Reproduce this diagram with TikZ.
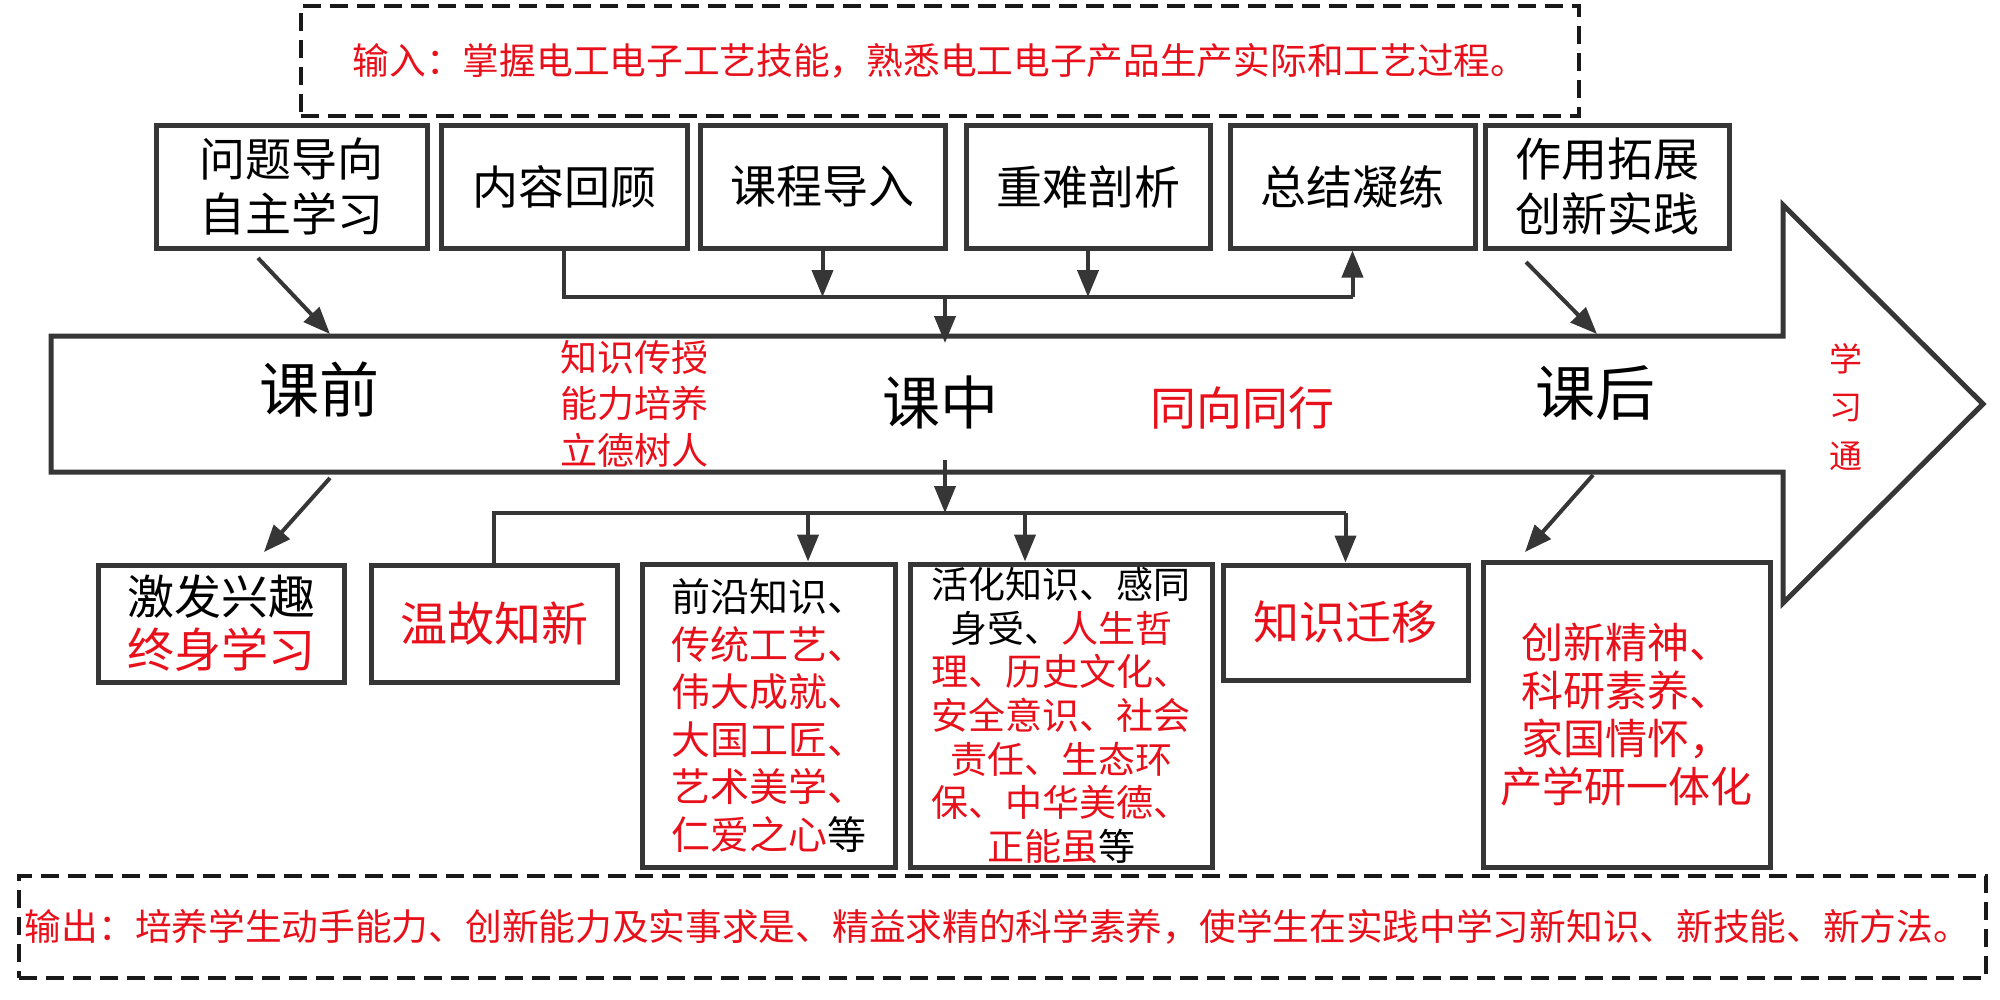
\documentclass[tikz,border=0pt]{standalone}
\usepackage{fontspec}
\setmainfont{Noto Sans CJK SC}
\usetikzlibrary{arrows.meta}
\definecolor{lc}{HTML}{363636}
\definecolor{rd}{HTML}{E8101A}
\tikzset{
  box/.style={draw=lc, line width=5pt, inner sep=0pt, align=center, fill=white},
  conn/.style={draw=lc, line width=4pt},
  arr/.style={conn, -{Triangle[length=27pt,width=21pt]}},
  dbox/.style={draw=black!90, line width=3.5pt, dash pattern=on 18pt off 9pt, inner sep=0pt, align=center},
  txt/.style={inner sep=0pt, align=center},
}
\begin{document}
\begin{tikzpicture}[x=1pt,y=-1pt]
\useasboundingbox (0,0) rectangle (2000,999);
% big arrow
\draw[lc, line width=5pt, line join=miter] (51,336) -- (1783,336) -- (1783,205) -- (1983,404) -- (1783,603) -- (1783,472) -- (51,472) -- cycle;
% dashed boxes
\node[dbox, minimum width=1278pt, minimum height=110pt, font={\fontsize{36.7}{44}\selectfont}, text=rd] (inp) at (940,61) {输入：掌握电工电子工艺技能，熟悉电工电子产品生产实际和工艺过程。};
\node[dbox, minimum width=1967pt, minimum height=102pt, font={\fontsize{36.7}{44}\selectfont}, text=rd] (outp) at (1002.5,927) {\hspace*{-10pt}输出：培养学生动手能力、创新能力及实事求是、精益求精的科学素养，使学生在实践中学习新知识、新技能、新方法。};
% top row
\begin{scope}[every node/.append style={box, minimum height=123pt, font={\fontsize{46}{55}\selectfont}}]
\node[minimum width=271pt] (b1) at (291.5,186.5) {问题导向\\自主学习};
\node[minimum width=246pt] (b2) at (564,186.5) {内容回顾};
\node[minimum width=245pt] (b3) at (822.5,186.5) {课程导入};
\node[minimum width=244pt] (b4) at (1088,186.5) {重难剖析};
\node[minimum width=245pt] (b5) at (1352.5,186.5) {总结凝练};
\node[minimum width=244pt] (b6) at (1607,186.5) {作用拓展\\创新实践};
\end{scope}
% bottom row
\node[box, minimum width=246pt, minimum height=117pt, font={\fontsize{47}{53}\selectfont}] (c1) at (221,623.5) {激发兴趣\\\textcolor{rd}{终身学习}};
\node[box, minimum width=246pt, minimum height=117pt, font={\fontsize{47}{53}\selectfont}, text=rd] (c2) at (494,623.5) {温故知新};
\node[box, minimum width=253pt, minimum height=303pt, font={\fontsize{39}{47.5}\selectfont}, align=left] (c3) at (768.5,715.5) {前沿知识、\\\textcolor{rd}{传统工艺、}\\\textcolor{rd}{伟大成就、}\\\textcolor{rd}{大国工匠、}\\\textcolor{rd}{艺术美学、}\\\textcolor{rd}{仁爱之心}等};
\node[box, minimum width=302pt, minimum height=303pt, font={\fontsize{37}{43.7}\selectfont}] (c4) at (1061,715.5) {活化知识、感同\\身受、\textcolor{rd}{人生哲}\\\textcolor{rd}{理、历史文化、}\\\textcolor{rd}{安全意识、社会}\\\textcolor{rd}{责任、生态环}\\\textcolor{rd}{保、中华美德、}\\\textcolor{rd}{正能虽}等};
\node[box, minimum width=245pt, minimum height=115pt, font={\fontsize{46}{55}\selectfont}, text=rd] (c5) at (1345.5,622.5) {知识迁移};
\node[box, minimum width=287pt, minimum height=305pt, font={\fontsize{42}{48}\selectfont}, text=rd] (c6) at (1626.5,714.5) {创新精神、\\科研素养、\\家国情怀，\\产学研一体化};
% arrow texts
\node[txt, font={\fontsize{60}{60}\selectfont}] (t1) at (319,390) {课前};
\node[txt, font={\fontsize{37}{46.5}\selectfont}, text=rd] (t2) at (634,403.5) {知识传授\\能力培养\\立德树人};
\node[txt, font={\fontsize{58}{58}\selectfont}] (t3) at (940,402) {课中};
\node[txt, font={\fontsize{46}{46}\selectfont}, text=rd] (t4) at (1242,408) {同向同行};
\node[txt, font={\fontsize{60}{60}\selectfont}] (t5) at (1595,393) {课后};
\node[txt, font={\fontsize{33}{48.5}\selectfont}, text=rd] (t6) at (1846,407) {学\\习\\通};
% upper connectors
\coordinate (jl) at (564,297);
\coordinate (jr) at (1352.5,297);
\coordinate (jm) at (945,297);
\coordinate (bigtop) at (945,343);
\draw[conn] (b2.south) -- (jl) -- (jr);
\draw[arr] (jr) -- (b5.south);
\draw[arr] (b3.south) -- (b3.south |- jl);
\draw[arr] (b4.south) -- (b4.south |- jl);
\draw[arr] (jm) -- (bigtop);
% lower connectors
\coordinate (km) at (945,460);
\coordinate (kj) at (945,513);
\coordinate (kl) at (494,513);
\coordinate (k3) at (808,513);
\coordinate (k4) at (1025,513);
\coordinate (kr) at (1345.5,513);
\draw[arr] (km) -- (kj);
\draw[conn] (c2.north) -- (kl) -- (kr);
\draw[arr] (k3) -- (k3 |- c3.north);
\draw[arr] (k4) -- (k4 |- c4.north);
\draw[arr] (kr) -- (c5.north);
% diagonal arrows
\coordinate (d1s) at (258,258); \coordinate (d1e) at (330,334);
\coordinate (d2s) at (1526,262); \coordinate (d2e) at (1597,334);
\coordinate (d3s) at (330,478); \coordinate (d3e) at (264,552);
\coordinate (d4s) at (1593,475); \coordinate (d4e) at (1525,552);
\draw[arr] (d1s) -- (d1e);
\draw[arr] (d2s) -- (d2e);
\draw[arr] (d3s) -- (d3e);
\draw[arr] (d4s) -- (d4e);
\end{tikzpicture}
\end{document}
